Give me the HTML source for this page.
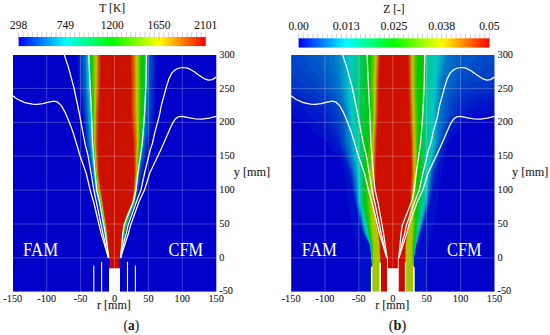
<!DOCTYPE html>
<html><head><meta charset="utf-8"><title>Figure</title>
<style>html,body{margin:0;padding:0;background:#fff;width:550px;height:335px;overflow:hidden;font-family:"Liberation Serif",serif}</style></head>
<body>
<svg width="550" height="335" viewBox="0 0 550 335" style="position:absolute;left:0;top:0" font-family="'Liberation Serif', serif" fill="#1a1a1a">
<rect width="550" height="335" fill="#fff"/>
<defs><clipPath id="ca"><rect x="13" y="55" width="204" height="237"/></clipPath><clipPath id="cb"><rect x="291" y="55" width="204" height="237"/></clipPath></defs>
<g clip-path="url(#ca)">
<rect x="0" y="40" width="240" height="260" fill="#0000c8"/>
<path d="M120.0,259.2 110.0,259.2 108.5,259.0 108.5,257.4 108.1,257.0 108.0,254.8 107.7,254.5 107.5,252.2 107.1,251.5 107.0,249.5 106.6,249.0 106.5,247.0 106.2,246.5 106.0,244.5 105.6,243.5 105.5,241.6 105.2,241.0 105.0,239.0 104.7,238.5 104.5,236.5 104.1,235.5 104.0,233.7 103.7,233.0 103.6,231.5 103.2,230.5 103.0,229.0 102.6,228.0 102.5,226.4 102.2,226.0 102.0,224.0 101.7,223.5 101.6,222.0 101.2,221.0 101.1,219.5 100.7,218.5 100.5,217.0 100.2,216.0 100.0,214.5 99.3,211.5 97.6,203.0 95.3,194.5 93.8,188.5 91.2,173.0 85.4,143.0 82.2,113.0 77.8,83.0 76.9,54.0 102.5,53.8 133.5,53.8 156.7,54.0 156.1,83.0 154.9,113.0 142.9,173.0 139.2,188.5 135.3,203.5 135.0,204.0 134.3,206.0 134.0,206.5 133.3,208.5 133.0,208.8 131.9,212.0 131.5,212.4 130.9,214.5 130.4,215.0 130.3,216.0 130.0,216.4 129.8,217.5 129.5,217.9 129.3,219.0 129.0,219.4 128.9,220.5 128.5,220.9 128.4,222.0 128.0,222.4 127.9,223.5 127.5,224.0 127.4,225.0 127.0,225.7 126.8,227.5 126.5,228.0 126.3,229.5 126.0,230.0 125.9,231.5 125.5,232.0 125.3,234.0 125.0,234.3 124.8,236.5 124.5,237.0 124.3,239.0 124.0,239.5 123.9,241.5 123.5,241.9 123.4,244.0 123.0,244.4 122.9,246.5 122.5,246.9 122.4,249.0 122.0,249.4 121.9,251.5 121.5,251.9 121.4,254.0 121.0,254.5 120.9,256.5 120.5,257.0 120.5,259.0 120.0,259.2Z" fill="#000fc8"/>
<path d="M120.0,259.2 110.0,259.2 108.6,259.0 108.5,257.3 108.1,256.5 108.0,254.6 107.7,254.0 107.5,251.9 107.2,251.5 107.0,249.5 106.7,248.5 106.6,247.0 106.2,246.0 106.0,244.0 105.7,243.5 105.5,241.5 105.2,240.5 104.0,233.4 97.8,203.0 94.3,190.0 91.4,173.0 85.8,143.0 82.7,113.0 78.7,83.0 77.7,54.0 102.5,53.8 133.0,53.8 155.7,54.0 155.1,83.0 153.9,113.0 148.4,143.0 142.5,173.0 138.6,190.0 135.2,203.5 130.4,215.0 127.0,225.4 125.7,231.5 125.5,232.0 125.3,233.5 125.0,234.1 124.8,236.0 124.4,237.0 124.3,238.5 123.9,239.5 123.8,241.0 123.4,242.0 123.4,243.5 123.0,244.5 122.9,246.0 122.5,246.8 122.3,249.0 122.0,249.3 121.8,251.5 121.5,251.8 121.4,254.0 121.0,254.4 120.9,256.5 120.5,256.9 120.5,259.0 120.0,259.2Z" fill="#0019c8"/>
<path d="M120.0,259.2 110.0,259.2 108.6,259.0 108.5,257.1 108.2,256.5 108.0,254.5 107.7,254.0 107.5,251.8 107.2,251.0 107.1,249.5 106.7,248.5 106.6,247.0 104.0,233.1 97.9,203.0 94.5,190.0 91.6,173.0 86.3,143.0 83.3,113.0 79.5,83.0 78.6,54.0 102.5,53.8 133.0,53.8 154.8,54.0 154.2,83.0 153.0,113.0 147.9,143.0 142.0,173.0 138.4,190.0 135.2,203.0 130.3,215.0 127.0,225.2 125.0,233.9 123.8,241.0 123.4,242.0 123.3,243.5 122.9,244.5 122.8,246.0 122.5,246.7 122.3,248.5 122.0,249.2 121.9,251.0 121.5,251.8 121.4,253.5 121.3,254.0 121.0,254.3 120.8,256.5 120.5,256.9 120.5,259.0 120.0,259.2Z" fill="#0023c8"/>
<path d="M120.0,259.2 110.0,259.2 108.6,259.0 108.5,257.0 108.2,256.5 108.0,254.3 107.7,253.5 107.5,251.6 104.0,233.0 98.0,203.0 94.6,190.0 86.7,143.0 83.9,113.0 80.3,83.0 79.5,54.0 102.5,53.8 133.0,53.8 153.9,54.0 153.3,83.0 152.1,113.0 147.3,143.0 141.6,173.0 138.2,190.0 135.1,203.0 130.3,215.0 127.0,225.0 125.0,233.7 123.2,243.5 122.9,244.5 122.8,246.0 122.5,246.5 122.3,248.5 122.0,249.1 121.8,251.0 121.5,251.7 121.3,253.5 121.0,254.2 120.9,256.0 120.5,256.8 120.5,259.0 120.0,259.2Z" fill="#002dc8"/>
<path d="M120.0,259.1 110.0,259.2 108.6,259.0 108.5,256.9 108.2,256.0 104.2,233.5 98.2,203.0 94.8,190.0 87.1,143.0 84.4,113.0 81.2,83.0 80.3,54.0 102.5,53.8 133.0,53.8 152.9,54.0 152.3,83.0 151.1,113.0 146.7,143.0 138.0,190.0 135.0,203.0 130.2,215.0 127.0,225.0 125.0,233.5 122.2,248.5 122.0,249.0 121.8,251.0 121.5,251.6 121.3,253.5 121.0,254.1 120.8,256.0 120.5,256.7 120.4,259.0 120.0,259.1Z" fill="#0037c8"/>
<path d="M120.0,259.1 110.0,259.2 108.7,259.0 108.5,256.8 104.3,233.5 98.3,203.0 94.9,190.0 87.5,143.0 85.0,113.0 82.0,83.0 81.2,54.0 102.5,53.8 133.0,53.8 152.0,54.0 151.4,83.0 150.2,113.0 146.2,143.0 137.8,190.0 135.0,203.0 130.1,215.0 126.9,225.0 125.0,233.3 121.7,251.0 121.5,251.5 121.3,253.5 121.0,254.1 120.8,256.0 120.5,256.7 120.4,259.0 120.0,259.1Z" fill="#0041c8"/>
<path d="M120.0,259.1 110.0,259.2 108.7,259.0 108.5,256.6 104.3,233.5 98.4,203.0 95.1,190.0 87.9,143.0 85.5,113.0 82.8,83.0 82.1,54.0 102.5,53.8 133.0,53.8 151.0,54.0 150.4,83.0 149.2,113.0 145.6,143.0 140.3,173.0 137.5,190.0 134.9,203.0 130.1,215.0 126.9,225.0 125.0,233.1 121.5,251.4 121.2,253.5 121.0,254.0 120.8,256.0 120.5,256.6 120.4,259.0 120.0,259.1Z" fill="#004bc8"/>
<path d="M120.0,259.1 110.0,259.2 108.7,259.0 108.5,256.5 104.4,233.5 98.9,204.5 95.2,189.5 88.3,143.0 83.7,83.0 82.9,54.0 102.5,53.8 133.0,53.8 150.1,54.0 149.5,83.0 148.3,113.0 145.1,143.0 139.9,173.0 137.3,190.0 134.8,203.0 130.0,215.0 126.8,225.0 125.0,233.0 121.0,253.9 120.8,256.0 120.5,256.5 120.4,259.0 120.0,259.1Z" fill="#0055c8"/>
<path d="M120.0,259.1 110.0,259.2 108.7,259.0 108.5,256.4 104.5,233.8 99.0,204.5 95.3,189.5 92.7,172.0 88.8,143.0 84.5,83.0 83.8,54.0 102.5,53.8 133.0,53.8 149.2,54.0 148.6,83.0 147.4,113.0 144.5,143.5 139.5,172.8 137.3,189.0 134.7,203.0 129.9,215.0 126.8,225.0 124.9,233.0 121.0,253.8 120.8,255.5 120.5,256.5 120.4,259.0 120.0,259.1Z" fill="#005fc8"/>
<path d="M120.0,259.1 110.0,259.2 108.8,259.0 108.5,256.2 104.5,233.4 99.0,203.9 95.4,189.0 92.8,171.0 89.1,143.0 85.2,85.0 84.4,54.0 102.5,53.8 133.0,53.8 148.5,54.0 147.8,87.5 146.8,113.0 144.2,143.0 139.5,171.0 136.9,191.0 134.7,202.5 129.9,215.0 126.5,225.9 124.9,233.0 121.0,253.7 120.8,255.5 120.5,256.4 120.4,259.0 120.0,259.1Z" fill="#0069c8"/>
<path d="M120.0,259.1 110.0,259.2 108.8,259.0 108.5,256.1 104.5,233.1 99.0,203.3 95.6,190.0 93.3,174.0 89.4,143.0 85.5,83.0 84.8,54.0 102.5,53.8 132.5,53.8 148.3,54.0 147.7,83.0 146.5,113.0 143.9,143.0 139.0,173.2 136.7,191.0 134.7,202.5 129.8,215.0 126.5,225.7 124.9,233.0 120.8,255.5 120.5,256.3 120.4,259.0 120.0,259.1Z" fill="#0073c8"/>
<path d="M120.0,259.1 110.0,259.2 108.8,259.0 108.5,256.0 104.5,233.0 99.0,203.0 95.7,190.0 93.3,173.0 89.6,143.0 85.8,83.0 85.2,54.0 102.5,53.8 132.0,53.8 148.0,54.0 147.5,83.0 146.2,113.0 143.7,143.0 138.9,173.0 136.7,190.5 134.6,202.5 129.8,215.0 126.5,225.5 124.8,233.0 120.8,255.5 120.5,256.3 120.4,259.0 120.0,259.1Z" fill="#007dc8"/>
<path d="M120.0,259.1 110.0,259.2 108.8,259.0 108.5,255.8 104.6,233.0 99.1,203.0 95.8,190.0 93.5,173.0 89.9,143.0 86.2,83.0 85.5,54.0 102.5,53.8 131.5,53.8 147.8,54.0 147.3,83.0 146.0,113.0 143.6,143.0 138.8,173.0 136.7,190.0 134.4,203.0 129.7,215.0 126.5,225.3 124.8,233.0 120.5,256.2 120.3,259.0 120.0,259.1Z" fill="#0087c8"/>
<path d="M120.0,259.1 110.0,259.2 108.9,259.0 108.5,255.7 104.7,233.0 99.2,203.0 95.9,190.0 93.6,173.0 90.2,143.0 86.5,83.0 85.9,54.0 102.5,53.8 131.0,53.8 147.5,54.0 147.0,83.0 145.7,113.0 143.4,143.0 138.7,173.0 136.6,190.0 134.4,203.0 129.7,215.0 126.5,225.2 124.7,233.0 120.5,256.2 120.3,259.0 120.0,259.1Z" fill="#0091c8"/>
<path d="M120.0,259.1 110.0,259.2 108.9,259.0 108.5,255.6 104.7,233.0 99.3,203.0 96.0,190.0 93.7,173.0 90.5,143.0 86.9,83.0 86.2,54.0 102.5,53.8 130.0,53.8 147.3,54.0 146.8,83.0 145.5,113.0 143.2,143.0 138.5,173.0 136.5,190.0 134.3,203.0 129.6,215.0 126.5,225.0 124.5,234.1 120.5,256.1 120.3,259.0 120.0,259.1Z" fill="#009bc8"/>
<path d="M120.0,259.1 110.0,259.2 108.9,259.0 108.5,255.4 104.8,233.0 99.4,203.0 96.1,190.0 93.9,173.0 90.7,143.0 87.2,83.0 86.6,54.0 102.5,53.8 147.0,54.0 146.6,83.0 145.3,113.0 143.0,143.0 138.4,173.0 136.4,190.0 134.2,203.0 129.5,215.0 126.5,225.0 124.5,233.9 120.5,256.0 120.3,259.0 120.0,259.1Z" fill="#00a5c8"/>
<path d="M120.0,259.1 110.0,259.2 108.9,259.0 108.9,258.0 104.8,233.0 99.5,203.0 96.2,190.0 94.0,173.0 91.0,143.0 87.6,83.0 86.9,54.0 102.5,53.8 146.8,54.0 146.4,83.0 145.0,113.0 142.8,143.0 138.3,173.0 136.4,189.5 134.3,202.5 129.5,215.0 126.4,225.0 124.6,233.0 120.5,256.0 120.3,259.0 120.0,259.1Z" fill="#00afc8"/>
<path d="M120.0,259.1 110.0,259.2 109.0,259.0 109.0,258.0 104.9,233.0 99.9,204.5 96.2,189.5 94.1,173.0 91.3,143.0 87.9,83.0 87.3,54.0 102.5,53.8 146.5,54.0 146.1,83.0 144.8,113.0 142.6,143.0 138.2,173.0 136.3,189.5 134.2,202.5 129.4,215.0 126.4,225.0 124.6,233.0 120.5,256.0 120.3,259.0 120.0,259.1Z" fill="#00b9c8"/>
<path d="M120.0,259.1 110.0,259.2 109.0,259.0 109.0,258.0 104.9,233.0 100.0,204.5 96.2,189.0 94.2,173.0 91.5,143.5 88.3,83.0 87.6,54.0 102.5,53.8 146.3,54.0 145.9,85.0 144.4,115.5 142.4,143.5 138.0,173.0 136.3,189.0 134.2,202.5 129.4,215.0 126.3,225.0 124.5,233.0 120.5,256.0 120.3,259.0 120.0,259.1Z" fill="#00c3c8"/>
<path d="M120.0,259.1 110.0,259.2 109.0,259.0 109.0,258.0 105.0,233.0 100.0,204.2 96.3,189.0 94.2,172.0 92.0,145.4 91.7,143.0 90.5,117.0 88.6,85.0 88.0,54.0 102.5,53.8 146.0,54.0 145.9,83.5 145.5,87.5 145.4,94.5 145.0,98.3 144.9,105.0 144.5,109.0 144.4,115.0 144.0,117.5 143.9,122.0 143.5,124.5 143.4,129.0 143.0,131.8 142.4,143.0 142.0,144.5 141.8,147.0 141.5,148.0 141.3,150.5 141.0,151.5 140.8,154.0 140.5,155.0 140.3,157.5 140.0,158.5 139.8,161.0 139.5,162.0 139.3,164.5 139.0,165.5 138.8,168.0 138.5,169.0 138.3,171.5 138.0,172.5 137.9,175.0 137.5,176.8 137.4,179.5 137.0,181.3 136.3,188.5 134.2,202.0 133.9,203.5 129.3,215.0 126.3,225.0 124.5,233.0 120.5,256.0 120.3,259.0 120.0,259.1Z" fill="#00c8c3"/>
<path d="M120.0,259.1 110.0,259.2 109.0,259.0 109.0,257.9 105.0,233.0 100.0,203.9 96.7,191.0 96.4,189.0 94.3,171.5 91.8,143.0 90.5,114.5 88.7,83.0 88.2,54.0 102.5,53.8 146.0,54.0 145.8,83.0 145.5,86.5 144.3,114.0 144.0,116.7 142.3,143.0 140.5,154.6 140.3,157.0 140.0,158.1 139.8,160.5 139.5,161.7 139.3,164.0 139.0,165.2 138.8,167.5 138.5,168.7 138.3,171.0 138.0,172.2 136.8,184.0 136.5,185.5 136.3,188.5 134.2,202.0 133.8,203.5 129.2,215.0 126.3,225.0 124.5,233.0 120.5,256.0 120.2,259.0 120.0,259.1Z" fill="#00c8b9"/>
<path d="M120.0,259.1 110.0,259.2 109.0,259.0 109.0,257.9 105.1,233.0 100.0,203.6 96.6,190.0 94.4,171.0 91.9,142.0 90.6,113.0 88.9,83.0 88.3,54.0 102.5,53.8 145.9,54.0 145.7,83.0 144.3,113.5 142.2,143.0 138.8,167.5 138.5,168.5 138.3,171.0 138.0,172.0 136.2,188.5 133.9,203.0 129.2,215.0 126.2,225.0 124.4,233.0 120.4,256.0 120.2,259.0 120.0,259.1Z" fill="#00c8af"/>
<path d="M120.0,259.1 110.0,259.2 109.0,259.0 109.0,257.8 105.1,233.0 100.0,203.3 96.7,190.0 94.6,173.0 92.0,143.0 90.7,113.0 89.0,83.0 88.5,54.0 102.5,53.8 145.9,54.0 145.6,83.0 144.3,113.0 142.1,143.0 138.0,172.0 135.8,191.5 133.9,203.0 129.1,215.0 126.2,225.0 124.4,233.0 120.4,256.0 120.2,259.0 120.0,259.1Z" fill="#00c8a5"/>
<path d="M120.0,259.1 110.0,259.2 109.0,259.0 109.0,258.0 105.2,233.0 100.0,203.0 96.7,190.0 94.7,173.0 92.1,143.0 90.8,113.0 89.2,83.0 88.6,54.0 102.5,53.8 145.9,54.0 145.6,80.5 145.2,91.5 144.2,113.0 142.2,141.5 141.7,145.5 137.9,172.0 135.7,191.5 133.9,203.0 129.1,215.0 126.2,225.0 124.4,233.0 120.4,256.0 120.2,259.0 120.0,259.1Z" fill="#00c89b"/>
<path d="M120.0,259.1 110.0,259.2 109.1,259.0 109.1,258.0 105.2,233.0 100.1,203.0 96.8,190.0 94.9,173.0 92.3,143.0 91.1,113.0 89.5,83.0 88.9,54.0 102.5,53.8 145.8,54.0 145.4,83.0 145.1,90.0 144.1,113.0 141.9,143.0 137.9,172.0 135.7,191.0 133.8,203.0 128.9,215.0 126.1,225.0 124.3,233.0 120.4,256.0 120.2,259.0 120.0,259.1Z" fill="#00c887"/>
<path d="M120.0,259.1 110.0,259.2 109.1,259.0 109.1,258.0 105.3,233.0 100.2,203.0 96.9,190.0 95.0,173.0 92.4,143.0 91.3,113.0 89.8,83.0 89.2,54.0 102.5,53.8 145.7,54.0 145.4,83.0 143.9,113.0 141.8,143.0 137.8,172.0 135.7,190.5 133.7,203.0 128.8,215.0 126.0,225.0 124.3,233.0 120.4,256.0 120.2,259.0 120.0,259.1Z" fill="#00c873"/>
<path d="M120.0,259.0 110.0,259.2 109.1,259.0 109.1,258.0 105.4,233.0 100.3,203.0 97.0,190.0 95.2,173.0 92.6,143.0 91.6,113.0 90.1,83.0 89.5,54.0 102.5,53.8 145.6,54.0 145.2,83.5 143.8,114.5 141.7,143.0 137.8,171.5 135.7,190.5 133.6,203.0 128.7,215.0 125.9,225.0 123.8,235.0 120.4,256.0 120.1,259.0 120.0,259.0Z" fill="#00c85f"/>
<path d="M120.0,259.0 110.0,259.1 109.1,259.0 109.1,258.0 105.5,233.0 100.4,203.0 97.1,190.0 95.4,173.0 92.8,143.0 91.8,113.0 90.3,83.0 89.8,54.0 102.5,53.9 145.6,54.0 145.2,83.5 143.7,114.5 141.6,143.0 137.7,171.5 135.7,190.0 133.6,203.0 128.6,215.0 125.8,225.0 123.8,235.0 120.0,259.0Z" fill="#00c84b"/>
<path d="M120.0,259.0 110.0,259.1 109.1,259.0 109.1,258.0 105.6,233.0 100.5,203.0 97.2,190.0 95.5,173.0 92.9,143.0 92.1,113.0 90.6,83.0 90.1,54.0 102.5,53.9 145.4,54.0 145.1,83.5 144.7,87.5 144.6,94.0 144.2,98.5 143.6,114.5 143.2,117.5 141.5,143.0 137.7,171.0 135.7,190.0 133.5,203.0 128.4,215.0 125.8,225.0 123.7,235.0 120.4,255.5 120.0,259.0Z" fill="#00c837"/>
<path d="M120.0,259.0 110.0,259.1 109.2,259.0 109.2,258.0 105.6,233.0 100.6,203.0 97.3,190.0 93.1,143.0 92.3,113.0 90.9,83.0 90.4,54.0 102.5,53.9 145.1,54.0 145.0,83.0 144.6,85.0 144.5,93.5 144.1,96.0 144.0,104.5 143.6,106.5 143.5,114.1 143.1,116.0 143.0,121.0 142.6,122.5 142.5,128.0 142.1,129.5 142.0,134.6 141.6,136.5 141.5,141.5 141.1,143.5 141.0,146.0 140.7,147.0 140.5,149.8 140.2,151.0 140.0,153.6 139.6,155.0 139.5,157.5 139.2,158.5 139.0,161.5 138.7,162.5 138.5,165.2 138.2,166.5 135.6,190.0 133.4,203.0 128.3,215.0 125.7,225.0 123.6,235.0 120.4,255.5 120.0,259.0Z" fill="#00c823"/>
<path d="M120.0,259.0 110.0,259.1 109.2,259.0 109.2,258.0 105.7,233.0 100.7,203.0 97.4,190.0 93.2,143.0 92.6,113.0 91.2,83.0 90.7,54.0 102.5,53.9 143.5,54.0 143.3,83.0 142.3,113.0 140.8,143.0 135.6,190.0 133.3,203.0 128.1,215.0 125.6,225.0 123.6,235.0 120.4,255.5 120.0,259.0Z" fill="#00c80f"/>
<path d="M120.0,259.0 110.0,259.1 109.2,259.0 109.2,258.0 105.8,233.0 100.8,203.0 97.5,190.0 93.4,143.0 92.8,113.0 91.5,83.0 91.0,54.0 102.5,53.9 141.5,54.0 141.4,101.0 140.3,141.0 137.3,173.0 135.5,190.0 133.2,203.0 128.0,215.0 125.5,225.0 123.5,235.0 120.4,255.5 120.0,259.0Z" fill="#05c800"/>
<path d="M119.5,259.1 109.2,259.0 109.2,258.0 105.9,233.0 100.9,203.0 97.6,190.0 93.5,143.0 93.0,113.0 92.0,83.0 91.5,54.0 141.0,54.0 141.1,83.0 140.6,113.0 139.9,143.0 136.8,177.5 135.5,190.0 133.2,203.0 127.9,215.0 125.4,225.0 123.5,234.6 120.3,255.5 120.0,259.0 119.5,259.1Z" fill="#19c800"/>
<path d="M119.5,259.1 109.2,259.0 109.2,258.0 106.0,233.0 101.0,203.0 97.8,190.0 96.3,174.5 93.7,143.0 93.2,113.0 92.4,83.0 92.1,54.0 140.5,54.0 140.6,83.0 140.3,113.0 139.7,143.0 137.2,173.0 135.4,190.0 133.1,203.0 127.8,215.0 125.3,225.0 123.5,234.2 120.3,255.5 120.0,259.0 119.5,259.1Z" fill="#2ec800"/>
<path d="M119.5,259.1 109.3,259.0 109.3,258.0 106.0,233.0 101.1,203.0 97.9,190.0 96.3,173.5 93.8,143.0 93.5,113.0 92.9,83.0 92.6,54.0 140.0,54.0 140.2,83.0 139.9,113.0 139.4,143.0 137.1,173.0 135.4,190.0 133.0,203.0 127.7,215.0 125.2,225.0 123.5,234.0 119.9,258.0 119.9,259.0 119.5,259.1Z" fill="#42c800"/>
<path d="M119.5,259.1 109.3,259.0 109.3,258.0 106.1,233.0 101.2,203.0 98.0,190.0 96.3,173.0 94.0,143.0 93.3,83.0 93.2,54.0 139.5,54.0 139.7,83.0 139.2,143.0 137.0,173.0 135.3,190.0 132.9,203.0 127.6,215.0 125.1,225.0 123.4,234.0 119.9,258.0 119.9,259.0 119.5,259.1Z" fill="#57c800"/>
<path d="M119.5,259.1 109.3,259.0 106.2,233.0 101.3,203.0 98.2,190.0 96.4,173.0 94.1,143.0 93.7,54.0 139.1,54.0 139.3,83.0 139.0,143.0 136.9,173.0 135.3,190.0 132.9,203.0 127.5,215.0 125.1,225.0 123.4,233.5 119.9,258.0 119.9,259.0 119.5,259.1Z" fill="#6bc800"/>
<path d="M119.5,259.1 109.3,259.0 109.1,256.0 106.1,232.0 101.4,203.0 98.3,190.0 96.5,173.0 94.2,143.0 94.1,113.0 94.2,54.0 138.6,54.0 138.8,83.0 138.8,143.0 136.8,173.0 135.2,190.0 132.8,203.0 127.4,215.0 125.0,225.0 123.3,233.5 119.9,258.0 119.9,259.0 119.5,259.1Z" fill="#80c800"/>
<path d="M119.5,259.1 109.3,259.0 109.1,256.0 106.1,231.5 101.5,203.0 98.4,190.0 96.5,172.1 94.4,143.0 94.3,113.0 94.8,54.0 138.1,54.0 138.4,83.0 138.6,143.0 136.7,173.0 135.2,190.0 132.7,203.0 127.3,215.0 124.9,225.0 123.3,233.0 119.8,258.0 119.8,259.0 119.5,259.1Z" fill="#94c800"/>
<path d="M119.5,259.1 109.4,259.0 109.2,256.0 106.2,231.5 101.6,203.0 98.5,189.6 96.7,173.0 94.5,143.0 94.6,113.0 95.1,83.0 95.3,54.0 137.6,54.0 138.3,143.0 136.7,173.0 135.1,190.0 132.6,203.0 127.2,215.0 124.8,225.0 123.3,233.0 119.8,258.0 119.8,259.0 119.5,259.1Z" fill="#a9c800"/>
<path d="M119.5,259.1 109.4,259.0 109.1,255.5 106.2,231.0 101.7,203.0 98.9,191.0 98.5,188.5 96.8,173.0 94.7,143.0 94.8,113.0 95.6,83.0 95.9,54.0 137.1,54.0 138.1,143.0 136.6,173.0 135.1,190.0 132.6,203.0 127.1,215.0 124.8,224.5 123.2,233.0 120.5,253.5 119.8,258.0 119.8,259.0 119.5,259.1Z" fill="#bdc800"/>
<path d="M119.5,259.1 109.4,259.0 109.2,255.5 106.6,233.0 101.9,203.0 99.0,190.5 97.0,174.6 94.9,143.0 95.0,113.0 96.0,83.0 96.4,54.0 136.6,54.0 137.8,143.0 136.5,173.0 135.0,190.0 132.5,203.0 127.0,215.0 124.7,224.5 123.1,233.0 120.0,257.0 119.8,258.0 119.8,259.0 119.5,259.1Z" fill="#cdc300"/>
<path d="M119.5,259.1 109.4,259.0 109.2,255.5 106.7,233.0 102.0,203.0 99.0,190.0 97.0,173.5 95.0,143.0 95.3,113.0 96.4,83.0 96.8,54.0 136.0,54.0 136.7,113.0 137.5,143.0 136.3,173.0 134.9,190.0 132.4,203.0 126.9,215.0 124.7,224.0 123.1,232.5 120.0,257.0 119.7,258.0 119.7,259.0 119.5,259.1Z" fill="#cdaf00"/>
<path d="M119.5,259.1 109.4,259.0 109.2,255.0 106.8,233.0 102.1,203.0 99.3,190.0 97.1,173.0 95.3,143.0 95.6,113.0 96.8,83.0 97.1,54.0 135.3,54.0 135.8,83.0 136.0,113.0 137.0,143.0 136.1,173.0 134.7,190.0 132.3,203.0 126.8,215.0 124.3,225.0 122.9,233.0 120.0,256.9 119.7,258.0 119.7,259.0 119.5,259.1Z" fill="#cd9b00"/>
<path d="M119.5,259.0 109.5,259.0 109.2,255.0 106.9,233.0 102.3,203.0 99.5,190.0 97.2,173.0 95.5,143.0 95.8,113.0 97.2,83.0 97.5,54.0 134.7,54.0 135.2,83.0 135.3,113.0 136.6,143.0 136.0,173.0 134.6,190.0 132.1,203.0 126.7,215.0 124.1,225.0 122.8,233.0 120.0,256.6 119.7,258.0 119.7,259.0 119.5,259.0Z" fill="#cd8700"/>
<path d="M119.5,259.0 109.5,259.0 109.3,255.0 107.0,233.0 102.4,203.0 99.8,190.0 97.4,173.0 95.8,143.0 96.1,113.0 97.6,83.0 97.8,54.0 134.0,54.0 134.6,83.0 134.6,113.0 136.1,143.0 135.7,174.5 134.4,190.0 132.0,203.0 126.6,215.0 124.0,225.0 122.6,233.0 120.0,256.4 119.7,258.0 119.7,259.0 119.5,259.0Z" fill="#cd7300"/>
<path d="M119.5,259.0 109.5,259.0 109.3,254.5 107.1,233.0 102.6,203.0 100.0,190.0 97.5,173.0 96.0,143.0 96.5,111.5 98.0,83.0 98.3,54.0 133.4,54.0 134.0,83.0 133.9,113.0 135.7,143.0 135.5,174.2 134.2,190.0 131.9,203.0 126.5,215.0 123.8,225.0 122.5,233.0 120.0,256.1 119.5,259.0Z" fill="#cd5f00"/>
<path d="M119.5,259.0 109.6,259.0 107.2,233.0 102.7,203.0 100.3,190.0 97.9,173.0 96.5,143.0 97.1,113.0 98.6,83.0 99.0,54.0 132.6,54.0 133.2,83.0 133.2,113.0 135.0,143.0 135.2,173.0 134.0,190.0 131.8,203.0 126.4,215.0 123.6,225.0 122.3,233.0 120.0,255.9 119.5,259.0Z" fill="#cd4b00"/>
<path d="M119.5,259.0 109.7,259.0 107.1,231.5 102.9,203.0 100.6,190.0 98.3,173.0 97.1,143.0 97.7,113.0 99.2,83.0 99.7,54.0 131.7,54.0 132.4,83.0 132.4,113.0 134.4,143.0 134.9,173.0 133.8,190.0 131.6,203.0 126.3,215.0 123.4,225.0 122.2,233.0 120.0,255.5 119.7,256.5 119.5,259.0Z" fill="#cd3700"/>
<path d="M119.5,259.0 109.8,259.0 109.8,258.0 109.5,257.2 109.3,253.0 109.0,251.5 108.8,247.0 108.5,245.7 107.2,231.0 101.0,190.0 98.6,173.0 97.6,143.0 98.4,113.0 99.9,83.0 100.5,54.0 130.9,54.0 131.7,83.0 131.7,113.0 133.7,143.0 134.5,173.0 133.5,190.0 131.5,202.9 126.4,214.5 123.3,225.0 121.9,234.0 120.2,251.5 120.0,255.1 119.7,256.5 119.5,259.0Z" fill="#cd2300"/>
<path d="M119.5,259.0 109.9,259.0 109.8,257.5 109.5,257.0 109.4,252.5 109.3,251.5 109.0,251.0 108.8,246.5 108.5,244.9 108.3,240.5 108.0,238.9 107.7,234.0 101.3,190.0 99.0,173.0 98.2,143.0 99.0,113.0 100.5,83.0 101.2,54.0 130.0,54.0 130.9,83.0 130.9,113.0 133.1,143.0 134.2,173.0 133.3,190.0 131.5,201.9 131.1,203.5 127.3,212.0 126.5,214.1 126.2,214.5 123.3,224.0 122.9,226.0 121.8,233.0 121.0,243.0 120.7,244.5 120.5,248.9 120.2,250.5 120.0,254.7 119.6,256.0 119.5,259.0Z" fill="#cd0f00"/>
<rect x="0" y="258.3" width="240" height="40" fill="#0000c8"/>
<rect x="109.5" y="257" width="10.1" height="11.4" fill="#cd0800"/>
<rect x="109.0" y="268.3" width="11.0" height="30" fill="#fff"/>
<rect x="93.25" y="265.5" width="1.1" height="40" rx="0.5" fill="#fff"/>
<rect x="101.05" y="261.7" width="1.1" height="40" rx="0.5" fill="#fff"/>
<rect x="126.95" y="261.7" width="1.1" height="40" rx="0.5" fill="#fff"/>
<rect x="134.85" y="265.5" width="1.1" height="40" rx="0.5" fill="#fff"/>
<g stroke="#fff" stroke-opacity="0.42" stroke-width="0.6"><line x1="46.7" y1="55.0" x2="46.7" y2="291.6"/><line x1="80.6" y1="55.0" x2="80.6" y2="291.6"/><line x1="114.5" y1="55.0" x2="114.5" y2="291.6"/><line x1="148.4" y1="55.0" x2="148.4" y2="291.6"/><line x1="182.3" y1="55.0" x2="182.3" y2="291.6"/><line x1="13.0" y1="257.9" x2="216.3" y2="257.9"/><line x1="13.0" y1="224.0" x2="216.3" y2="224.0"/><line x1="13.0" y1="190.1" x2="216.3" y2="190.1"/><line x1="13.0" y1="156.2" x2="216.3" y2="156.2"/><line x1="13.0" y1="122.3" x2="216.3" y2="122.3"/><line x1="13.0" y1="88.4" x2="216.3" y2="88.4"/>
</g>
<g fill="none" stroke="#fff" stroke-width="1.25" stroke-linejoin="round"><polyline points="12.8,95.7 17.5,99.2 24.9,102.6 32.4,104.1 36.9,104.4 42.8,103.7 48.8,102.2 54.0,101.1 57.8,102.2 61.5,105.9 65.2,112.6 69.0,121.6 72.7,131.3 76.3,143.0 80.1,156.0 86.1,173.0 90.3,190.5 93.9,203.0 101.0,233.0 108.5,258.0"/>
<polyline points="64.3,54.8 67.9,65.5 71.5,78.7 74.0,88.0 79.2,113.0 84.9,143.0 88.1,156.0 91.0,173.0 93.9,190.5 96.6,203.0 102.8,233.0 108.5,258.0"/>
<polyline points="88.8,54.8 90.0,83.0 91.5,113.0 92.6,143.0 95.1,173.0 96.8,190.5 99.8,203.0 105.2,233.0 108.8,258.0"/>
<polyline points="120.5,258.0 126.3,240.0 128.6,233.0 130.3,226.0 139.3,201.0 144.5,190.0 149.8,173.0 160.7,150.0 164.4,141.8 168.9,131.3 172.6,123.1 175.6,118.7 178.6,116.7 182.3,116.4 188.3,117.6 195.8,119.0 201.7,119.1 209.2,118.2 216.2,116.4"/>
<polyline points="120.5,258.0 124.5,240.0 126.5,233.0 128.0,225.5 136.9,200.5 140.9,190.0 144.6,173.0 150.2,150.0 152.5,143.0 154.7,132.8 159.2,116.4 161.4,105.0 163.7,96.8 165.9,88.6 168.9,78.9 171.9,72.9 175.6,69.5 179.3,68.0 183.1,67.5 187.6,68.1 192.8,70.7 198.7,75.1 204.0,78.6 208.4,80.1 212.2,79.6 216.2,77.1"/>
<polyline points="146.4,54.8 146.0,83.0 144.6,113.0 142.3,143.0 137.9,173.0 136.0,190.0 133.9,200.0 124.1,225.0 122.8,233.0 122.2,240.0 120.5,258.0"/>
</g>
<text x="40.5" y="255.6" font-size="18.0" text-anchor="middle" textLength="35.0" lengthAdjust="spacingAndGlyphs" fill="#fff">FAM</text>
<text x="185.8" y="255.7" font-size="18.0" text-anchor="middle" textLength="34.5" lengthAdjust="spacingAndGlyphs" fill="#fff">CFM</text>
</g>
<rect x="10.0" y="291.6" width="209.3" height="3" fill="#fff"/><rect x="216.3" y="52.0" width="3" height="242.6" fill="#fff"/><rect x="10.0" y="52.0" width="3" height="242.6" fill="#fff"/>
<g clip-path="url(#cb)">
<rect x="280" y="40" width="240" height="260" fill="#0000c8"/>
<path d="M427.0,293.0 413.5,293.0 412.5,293.2 404.5,293.2 381.5,293.2 373.0,293.2 372.0,293.0 359.3,293.0 359.3,266.0 357.8,245.0 353.0,233.0 348.1,203.0 344.3,173.0 341.3,160.0 339.5,156.2 338.0,153.9 335.5,152.9 333.5,151.7 331.5,150.1 330.0,148.5 328.7,146.5 327.2,143.0 325.0,139.3 320.0,136.5 315.5,133.2 311.8,129.5 308.0,124.6 299.0,120.2 295.0,117.9 291.0,115.4 290.0,115.4 290.0,54.0 407.0,53.8 496.0,54.0 496.0,112.6 494.0,112.6 478.0,114.8 474.3,117.5 470.0,120.0 466.5,122.7 462.0,125.0 460.4,127.5 458.4,130.0 457.0,132.5 455.7,134.0 453.3,136.0 450.0,137.6 448.9,142.0 448.4,143.0 441.3,173.0 437.7,203.0 431.9,233.0 429.0,245.0 427.4,258.0 427.1,266.0 427.1,293.0 427.0,293.0Z" fill="#000fc8"/>
<path d="M413.0,293.1 381.0,293.2 373.0,293.2 372.0,293.0 372.0,265.5 371.6,265.0 371.5,260.0 371.1,259.5 371.0,255.6 370.6,255.0 370.5,251.7 370.1,251.0 370.0,248.0 369.6,247.0 369.5,245.0 362.7,234.0 361.8,232.0 354.4,203.0 348.4,173.0 340.6,151.5 339.0,151.0 338.0,147.9 334.8,145.0 331.0,140.1 327.9,135.0 325.0,129.1 321.5,126.2 308.0,113.4 303.5,110.7 299.5,108.0 291.0,105.0 290.0,105.0 290.0,54.0 407.0,53.8 496.0,54.0 496.0,103.6 494.0,103.6 486.5,105.5 478.0,107.2 468.5,114.0 462.0,117.7 458.8,123.0 456.6,126.0 454.5,128.2 450.0,132.2 449.2,136.5 447.6,142.0 447.0,143.0 435.8,173.0 430.3,203.0 423.5,224.7 423.2,226.0 422.9,226.5 422.8,227.5 422.5,227.9 422.3,229.0 421.5,231.2 421.2,232.5 421.0,232.8 420.4,235.0 420.0,235.5 419.8,236.5 419.5,236.8 418.9,239.0 418.5,239.4 418.3,240.5 418.0,240.8 417.9,241.5 417.5,242.2 417.4,243.0 417.0,243.4 416.9,244.5 416.5,244.9 416.4,246.5 416.0,247.0 415.9,249.0 415.5,249.5 415.4,251.5 415.0,252.1 414.9,254.0 414.5,254.6 414.5,256.5 414.0,257.2 413.9,263.0 413.5,264.5 413.5,293.0 413.0,293.1Z" fill="#0019c8"/>
<path d="M413.0,293.1 381.0,293.2 373.0,293.2 372.0,293.0 372.0,265.5 371.6,264.0 371.5,259.6 371.2,258.5 371.0,255.1 370.7,254.0 370.5,251.2 370.2,250.0 369.6,245.0 362.6,233.0 355.0,203.0 349.5,173.0 341.8,151.5 340.9,151.0 338.0,141.7 334.2,137.0 330.7,131.5 327.4,125.0 325.0,118.6 313.8,108.0 308.0,105.3 300.5,102.7 291.0,98.9 290.0,98.9 290.0,54.0 407.0,53.8 496.0,54.0 496.0,97.0 493.0,97.2 478.0,100.0 474.5,102.3 468.0,106.8 462.0,111.4 461.3,113.0 460.0,115.2 455.5,121.8 453.0,124.8 450.0,127.5 448.2,134.5 448.7,135.0 448.5,135.6 435.1,173.0 429.8,203.0 421.0,232.0 416.5,244.7 416.2,246.5 416.0,246.8 415.8,249.0 415.5,249.5 415.3,251.5 415.0,252.0 414.8,254.0 414.5,254.5 414.3,256.5 414.0,257.0 413.8,262.5 413.5,263.7 413.5,293.0 413.0,293.1Z" fill="#0023c8"/>
<path d="M413.0,293.1 381.0,293.2 373.0,293.2 372.0,293.0 372.0,265.5 371.7,263.5 371.5,259.2 371.2,258.0 371.0,254.8 370.8,254.0 369.7,245.0 363.2,233.5 362.8,232.5 355.6,203.5 350.5,173.0 340.0,143.0 339.2,142.5 338.0,135.3 334.6,130.5 331.5,125.0 328.3,116.0 325.0,108.0 306.5,99.4 293.0,94.2 291.0,93.5 290.0,93.5 290.0,54.0 407.0,53.8 496.0,54.0 496.0,92.0 493.0,92.1 478.0,94.3 472.0,97.1 466.6,100.0 462.0,103.2 459.9,108.0 458.0,113.0 453.8,119.0 450.0,123.3 447.0,134.5 447.8,135.0 444.5,143.0 434.5,173.0 429.4,203.0 420.5,233.0 416.5,244.5 415.9,247.0 415.3,251.0 414.9,252.0 414.8,253.5 414.4,254.5 414.4,256.0 414.0,257.0 413.8,261.0 413.5,263.3 413.5,293.0 413.0,293.1Z" fill="#002dc8"/>
<path d="M413.0,293.1 381.0,293.2 373.0,293.2 372.1,293.0 372.1,265.5 371.7,263.0 371.5,258.8 371.2,257.5 371.0,254.4 369.8,245.0 363.3,233.0 355.9,203.0 351.0,173.0 340.8,143.0 340.3,142.5 338.8,132.0 338.0,128.9 335.6,125.0 332.6,116.0 329.6,108.0 327.1,105.5 325.0,103.0 318.6,100.0 308.0,94.0 294.5,89.1 291.0,88.0 290.0,88.0 290.0,54.0 407.0,53.8 496.0,54.0 496.0,86.1 494.0,86.1 478.0,88.6 471.1,91.5 462.0,96.0 459.4,100.0 458.5,102.1 456.5,107.2 454.7,113.0 450.0,119.1 445.8,134.5 446.1,135.0 443.3,143.0 433.9,173.0 429.0,203.0 420.3,233.0 416.5,244.3 416.0,246.4 414.7,253.5 414.4,254.5 414.3,256.0 413.9,257.0 413.8,260.5 413.5,262.8 413.4,293.0 413.0,293.1Z" fill="#0037c8"/>
<path d="M413.0,293.1 381.0,293.2 373.0,293.2 372.1,293.0 372.1,265.5 371.7,262.5 371.5,258.5 369.9,245.0 363.8,233.5 363.3,232.0 356.2,203.0 351.5,173.0 341.5,143.0 340.1,132.5 340.3,132.0 338.8,125.0 338.0,119.3 335.2,110.5 334.3,108.0 331.4,105.5 328.5,102.5 326.4,100.0 325.0,97.5 308.0,88.0 299.0,81.6 291.0,75.1 290.0,75.1 290.0,54.0 407.0,53.8 496.0,54.0 496.0,77.0 494.0,77.0 483.5,81.1 469.5,85.8 462.0,89.0 459.3,94.0 455.1,100.0 454.4,102.0 452.9,107.0 451.3,113.0 450.0,114.8 447.7,123.0 447.8,123.5 447.5,124.7 433.5,172.4 428.6,203.0 420.3,232.5 416.4,244.5 416.0,246.1 414.2,256.0 413.9,257.0 413.8,260.0 413.5,262.3 413.4,293.0 413.0,293.1Z" fill="#0041c8"/>
<path d="M413.0,293.1 381.0,293.2 373.0,293.2 372.1,293.0 372.1,265.5 371.7,262.5 371.5,258.2 370.0,245.0 363.8,233.0 356.6,203.0 352.0,173.0 342.8,143.0 341.6,129.5 338.5,108.0 338.0,107.3 333.4,103.5 330.1,100.0 325.0,91.2 319.2,88.0 308.0,76.8 299.5,70.0 297.4,66.0 295.4,61.5 293.1,55.0 293.1,54.0 381.0,53.8 496.0,54.0 496.0,63.1 494.0,63.1 488.3,66.5 483.0,70.0 478.0,72.2 462.0,80.8 461.2,83.0 456.8,92.0 454.0,96.0 450.9,100.0 450.0,103.2 449.2,110.5 449.4,111.0 449.2,113.0 446.6,123.0 446.6,123.5 432.9,173.0 428.3,203.0 420.1,232.5 416.3,244.5 415.8,247.0 413.9,257.0 413.5,261.7 413.4,293.0 413.0,293.1Z" fill="#004bc8"/>
<path d="M413.0,293.1 381.0,293.2 373.0,293.2 372.1,293.0 372.1,265.5 371.5,258.0 370.1,245.0 364.0,233.0 356.8,203.0 352.4,173.0 344.0,143.0 343.0,125.0 341.0,108.0 340.2,107.0 339.0,106.5 338.0,104.0 333.7,100.0 326.7,88.0 325.0,82.9 312.2,70.0 304.8,57.0 303.8,55.0 303.8,54.0 381.0,53.8 478.0,54.0 478.0,55.0 462.0,70.0 459.6,76.5 457.5,83.0 453.0,92.0 450.0,96.0 448.4,100.0 447.4,110.5 448.0,111.0 447.8,113.0 440.5,143.0 432.5,173.0 428.0,203.0 419.8,233.0 416.1,245.0 414.0,256.5 413.4,264.5 413.4,293.0 413.0,293.1Z" fill="#0055c8"/>
<path d="M413.0,293.1 381.0,293.2 373.0,293.2 372.1,293.0 372.1,265.5 371.5,258.0 370.1,245.0 364.3,233.0 357.1,203.0 352.9,173.0 345.0,143.0 343.9,125.0 341.9,108.0 341.3,107.0 340.2,106.5 338.0,100.7 337.3,100.0 330.2,88.0 327.8,80.0 325.0,72.1 322.9,70.0 314.4,55.0 314.4,54.0 381.0,53.8 461.0,54.0 461.0,55.0 459.3,62.0 457.7,70.0 455.6,76.5 453.8,83.0 448.4,94.0 447.3,97.0 446.4,100.0 445.6,110.5 446.0,111.0 445.9,113.0 439.8,143.0 432.1,173.0 427.8,203.0 419.7,233.0 416.0,245.5 413.9,256.5 413.5,261.0 413.4,293.0 413.0,293.1Z" fill="#005fc8"/>
<path d="M413.0,293.1 381.0,293.2 373.0,293.2 372.1,293.0 372.1,265.5 371.6,258.0 370.2,245.0 364.5,233.0 357.4,203.0 353.5,173.0 346.0,143.0 344.8,125.0 343.5,113.0 342.7,108.0 342.2,107.0 341.5,106.5 339.3,100.0 338.0,95.2 333.8,88.0 331.0,78.5 328.2,70.0 325.0,55.0 325.0,54.0 381.0,53.8 456.0,54.0 456.0,55.0 453.4,70.0 450.0,83.0 448.7,85.5 447.5,88.6 445.5,95.2 444.5,99.6 443.7,110.5 444.0,111.0 443.9,113.0 439.0,143.0 431.8,173.0 427.5,203.0 419.5,233.0 416.0,245.0 413.9,256.5 413.4,264.5 413.4,293.0 413.0,293.1Z" fill="#0069c8"/>
<path d="M413.0,293.1 381.0,293.2 373.0,293.2 372.1,293.0 372.1,265.5 371.6,258.0 370.2,245.0 364.8,233.0 357.7,203.0 354.0,173.0 347.0,143.0 344.5,113.0 343.6,108.0 343.2,107.0 342.8,106.5 338.6,91.0 338.0,89.2 337.3,88.0 334.8,78.5 332.3,70.0 329.1,55.0 329.1,54.0 381.0,53.8 451.0,54.0 451.0,55.0 449.0,70.0 444.7,86.0 442.9,96.0 442.4,100.0 441.9,110.5 442.1,111.0 442.0,113.0 438.3,143.0 431.4,173.0 427.3,203.0 419.4,233.0 416.0,245.0 413.9,256.5 413.4,264.0 413.3,293.0 413.0,293.1Z" fill="#0073c8"/>
<path d="M413.0,293.1 381.0,293.2 373.0,293.2 372.2,293.0 372.2,265.5 371.6,258.0 370.3,245.0 364.8,232.5 358.0,203.0 354.5,173.0 348.0,143.0 345.5,113.0 340.0,88.0 339.0,87.5 338.0,76.0 336.4,70.0 333.1,55.0 333.1,54.0 381.0,53.8 448.8,54.0 448.8,55.0 447.9,55.5 447.5,57.0 441.0,83.5 440.9,92.0 439.9,115.0 437.5,143.0 431.0,173.0 427.0,203.0 419.2,233.0 415.9,245.0 413.9,256.5 413.3,264.0 413.3,293.0 413.0,293.1Z" fill="#007dc8"/>
<path d="M413.0,293.1 381.0,293.2 373.0,293.2 372.2,293.0 372.2,265.5 371.6,258.0 370.3,245.0 365.2,233.0 358.3,203.0 355.0,173.0 349.0,143.0 346.2,113.0 341.2,88.0 340.4,87.5 338.0,58.8 337.2,55.0 337.2,54.0 381.0,53.8 447.3,54.0 447.3,55.0 446.5,55.5 440.3,83.0 439.1,113.0 436.9,143.0 430.7,173.0 426.7,203.0 415.8,245.0 413.8,256.5 413.3,264.0 413.3,293.0 413.0,293.1Z" fill="#0087c8"/>
<path d="M413.0,293.1 381.0,293.2 373.0,293.2 372.2,293.0 372.2,265.5 371.7,258.0 370.4,245.0 365.3,233.0 358.5,203.0 355.5,173.0 349.9,143.0 347.0,113.0 342.5,88.0 341.7,87.5 339.3,54.0 381.0,53.8 445.9,54.0 445.9,55.0 445.2,55.5 439.5,83.0 438.1,113.0 436.4,143.0 430.3,173.0 426.5,203.0 415.8,245.0 413.8,256.5 413.3,264.0 413.3,293.0 413.0,293.1Z" fill="#0091c8"/>
<path d="M413.0,293.1 381.0,293.2 373.0,293.2 372.2,293.0 372.2,265.5 371.7,258.0 370.5,245.0 365.5,233.0 358.8,203.0 356.0,173.0 350.9,143.0 347.7,113.0 343.7,88.0 343.1,87.5 340.9,54.0 381.0,53.8 444.4,54.0 444.4,55.0 443.8,55.5 438.8,83.0 435.8,143.0 430.0,173.0 426.2,203.0 415.7,245.0 413.8,256.5 413.3,264.5 413.3,293.0 413.0,293.1Z" fill="#009bc8"/>
<path d="M413.0,293.1 381.0,293.2 373.0,293.1 372.2,293.0 372.2,265.5 371.7,258.0 370.5,245.0 365.7,233.0 359.0,203.0 356.5,173.0 351.9,143.0 348.5,113.0 344.9,88.0 344.4,87.5 342.5,54.0 381.0,53.8 442.9,54.0 442.9,55.0 442.4,55.5 438.0,83.0 436.3,113.0 435.3,143.0 429.6,173.0 425.9,203.0 415.7,245.0 413.7,256.5 413.3,264.5 413.2,293.0 413.0,293.1Z" fill="#00a5c8"/>
<path d="M413.0,293.1 381.0,293.2 373.0,293.1 372.2,293.0 372.2,265.5 371.7,258.0 370.6,245.0 365.8,233.0 359.3,203.0 356.9,173.0 352.8,143.0 346.1,88.0 345.8,87.5 344.2,54.0 381.0,53.8 441.4,54.0 441.4,55.0 441.1,55.5 437.3,83.0 435.3,113.0 434.7,143.0 429.3,173.0 425.6,203.0 415.6,245.0 413.7,256.5 413.3,264.5 413.2,293.0 413.0,293.1Z" fill="#00afc8"/>
<path d="M413.0,293.1 381.0,293.2 373.0,293.1 372.3,293.0 372.3,265.5 371.8,258.0 370.6,245.0 366.0,233.0 359.5,203.0 357.4,173.0 349.9,113.0 347.4,88.0 347.1,87.5 346.8,83.0 345.8,54.0 381.0,53.8 440.0,54.0 436.5,83.0 434.4,113.0 434.1,143.0 428.9,173.0 425.4,203.0 415.7,244.0 413.8,256.0 413.4,260.5 413.2,264.5 413.2,293.0 413.0,293.1Z" fill="#00b9c8"/>
<path d="M413.0,293.0 381.0,293.2 373.0,293.1 372.3,293.0 372.3,265.5 370.7,245.0 366.2,233.0 359.8,203.0 357.9,173.0 354.7,143.0 350.7,113.0 348.4,87.5 348.1,83.0 347.4,54.0 381.0,53.8 438.5,54.0 435.8,83.0 433.4,113.0 433.6,143.0 428.6,173.0 425.1,203.0 415.7,244.0 413.7,256.0 413.4,260.0 413.2,264.5 413.2,293.0 413.0,293.0Z" fill="#00c3c8"/>
<path d="M413.0,293.0 381.0,293.2 372.3,293.0 372.3,265.5 370.7,245.0 366.4,233.0 360.0,203.0 358.4,173.0 356.0,146.3 355.5,141.6 351.4,113.0 349.5,83.0 349.0,54.0 381.0,53.8 437.0,54.0 435.0,83.1 432.5,113.0 433.0,143.0 428.2,173.0 424.8,203.0 415.4,245.0 413.7,256.0 413.3,260.5 413.2,266.0 413.2,293.0 413.0,293.0Z" fill="#00c8c3"/>
<path d="M413.0,293.0 381.0,293.2 372.3,293.0 372.3,265.5 370.8,245.0 366.6,233.0 360.3,203.0 358.8,173.0 356.2,143.0 352.2,113.0 350.7,83.0 350.2,54.0 381.0,53.8 435.4,54.0 433.6,83.0 431.3,113.0 432.3,143.0 427.7,173.0 424.4,203.0 415.3,245.0 413.7,256.0 413.3,260.5 413.2,266.0 413.2,293.0 413.0,293.0Z" fill="#00c8b9"/>
<path d="M413.0,293.0 381.0,293.2 372.3,293.0 372.3,265.5 370.8,245.0 366.8,233.0 360.6,203.0 359.3,173.0 356.7,143.0 353.1,113.0 351.9,83.0 351.4,54.0 381.0,53.8 433.7,54.0 432.2,83.0 430.1,113.0 431.5,143.0 427.2,173.0 423.9,203.0 415.2,245.0 413.7,256.0 413.3,260.0 413.1,266.0 413.1,293.0 413.0,293.0Z" fill="#00c8af"/>
<path d="M413.0,293.0 381.5,293.2 372.3,293.0 372.3,265.5 370.9,245.0 367.1,233.0 360.9,203.0 359.7,173.0 357.3,143.0 353.9,113.0 353.0,83.0 352.7,54.0 381.0,53.8 432.1,54.0 430.8,83.0 428.9,113.0 430.8,143.0 426.7,173.0 423.5,203.0 415.1,245.0 413.6,256.0 413.3,260.0 413.1,266.0 413.0,293.0Z" fill="#00c8a5"/>
<path d="M413.0,293.0 381.5,293.2 372.4,293.0 372.3,265.5 371.0,245.0 367.4,233.0 361.3,203.0 360.2,173.0 357.8,143.0 354.8,113.0 354.2,83.0 353.9,54.0 381.0,53.8 430.4,54.0 429.4,83.0 427.8,113.0 430.0,143.0 426.1,173.0 423.1,203.0 415.0,245.0 413.6,256.0 413.3,260.0 413.1,266.0 413.0,293.0Z" fill="#00c89b"/>
<path d="M413.0,293.0 381.5,293.2 372.4,293.0 372.4,265.5 371.1,245.0 367.8,232.5 361.9,203.0 361.0,172.6 356.5,113.0 356.5,83.0 356.3,54.0 381.0,53.8 427.2,54.0 426.6,83.0 425.4,113.0 428.5,143.0 425.1,173.0 422.2,203.0 417.1,233.0 415.0,244.2 413.3,258.0 413.1,266.0 413.0,293.0Z" fill="#00c887"/>
<path d="M413.0,293.0 381.5,293.2 372.4,293.0 372.4,266.0 371.2,245.0 368.3,233.5 362.3,203.0 361.6,173.0 357.8,113.0 358.2,83.0 358.3,54.0 381.0,53.8 425.6,54.0 425.4,83.0 423.8,113.0 425.4,143.0 424.3,173.0 421.3,203.0 416.8,233.0 414.6,246.0 413.3,258.0 413.0,266.0 413.0,293.0Z" fill="#00c873"/>
<path d="M412.5,293.1 381.0,293.2 372.5,293.0 372.5,266.0 371.4,245.0 368.5,233.0 362.7,203.0 362.1,173.0 359.0,113.0 360.1,54.0 381.0,53.8 425.2,54.0 424.8,85.5 423.3,113.0 423.6,143.0 423.5,173.0 420.6,203.0 416.6,232.0 414.5,245.4 413.2,258.0 413.0,266.0 413.0,293.0 412.5,293.1Z" fill="#00c85f"/>
<path d="M412.5,293.1 381.0,293.1 372.5,293.0 372.5,266.0 371.5,245.0 368.7,232.5 363.0,203.0 362.6,173.0 360.2,113.0 361.9,54.0 381.0,53.9 424.9,54.0 424.7,83.0 423.0,113.0 422.7,173.0 419.9,203.0 416.2,233.0 414.4,245.0 413.1,258.0 413.0,266.0 413.0,293.0 412.5,293.1Z" fill="#00c84b"/>
<path d="M412.5,293.1 381.0,293.1 372.5,293.0 372.5,266.0 372.3,258.0 371.6,245.0 371.2,244.0 371.1,242.5 370.7,241.5 370.5,240.0 368.8,232.0 363.4,203.0 363.1,173.0 362.3,142.5 361.8,113.0 363.8,54.0 381.0,53.9 424.7,54.0 424.5,83.0 422.8,113.0 422.1,143.0 421.9,173.0 419.2,203.0 415.9,233.0 414.3,245.0 413.1,258.0 412.9,266.0 412.9,293.0 412.5,293.1Z" fill="#00c837"/>
<path d="M412.5,293.1 381.0,293.1 372.6,293.0 372.6,266.0 372.4,258.0 371.7,245.0 371.3,244.0 371.2,242.5 370.8,241.5 370.7,240.0 369.3,233.5 363.7,203.0 363.9,143.0 364.7,113.0 365.0,83.0 365.7,54.0 381.0,53.9 424.6,54.0 424.4,83.0 422.7,113.0 421.4,143.0 421.1,173.0 418.6,203.0 413.9,248.5 413.0,258.0 412.9,293.0 412.5,293.1Z" fill="#00c823"/>
<path d="M412.5,293.1 372.6,293.0 372.6,266.0 372.4,258.0 371.9,250.5 371.8,245.0 371.7,244.5 371.4,244.0 371.2,242.0 370.9,241.5 370.8,240.0 369.4,233.5 364.1,203.0 364.4,173.0 365.4,143.0 367.6,113.0 367.3,83.0 367.6,54.0 381.0,53.9 424.3,54.0 424.2,83.0 420.6,143.0 420.3,173.0 415.5,230.5 412.9,258.0 412.8,293.0 412.5,293.1Z" fill="#00c80f"/>
<path d="M412.5,293.1 372.7,293.0 372.7,266.0 372.5,258.0 372.3,252.5 372.0,250.5 371.8,245.0 371.8,244.5 371.5,244.0 371.3,242.0 371.0,241.5 370.8,239.5 370.5,238.5 370.4,237.0 369.5,232.9 364.5,203.0 365.0,173.0 366.8,146.0 369.2,123.0 370.0,117.2 370.1,114.5 370.5,113.0 370.2,109.0 370.0,97.9 369.6,89.0 369.5,54.0 381.0,53.9 424.0,54.0 424.0,83.0 423.7,83.5 423.6,84.5 423.5,91.6 423.1,93.0 423.0,100.5 422.6,101.5 422.6,102.5 422.5,109.5 422.1,110.5 422.0,116.6 421.6,118.0 421.5,123.0 421.1,124.5 421.0,129.1 420.6,131.0 420.5,135.5 420.2,137.0 419.8,143.0 419.5,173.0 419.2,175.5 419.0,179.5 418.7,182.0 415.0,233.0 412.8,258.0 412.8,293.0 412.5,293.1Z" fill="#05c800"/>
<path d="M412.5,293.1 372.7,293.0 372.6,258.0 371.9,244.5 371.7,244.0 370.0,233.6 365.4,203.0 366.0,173.0 368.0,143.0 371.0,113.0 370.1,83.0 370.3,54.0 418.3,54.0 417.4,83.0 418.3,113.0 417.8,153.0 417.4,164.5 417.4,173.5 416.2,203.0 415.7,212.5 414.6,232.0 412.7,258.0 412.8,293.0 412.5,293.1Z" fill="#19c800"/>
<path d="M412.5,293.0 372.7,293.0 372.7,258.0 372.0,245.0 370.3,233.0 366.4,203.0 367.0,173.0 369.0,143.0 371.6,113.0 370.7,83.0 371.2,54.0 417.3,54.0 416.6,83.0 417.6,113.0 417.5,143.0 416.9,173.0 414.2,233.0 412.6,258.0 412.7,293.0 412.5,293.0Z" fill="#2ec800"/>
<path d="M412.5,293.0 372.8,293.0 372.8,258.0 372.3,245.0 370.7,233.0 367.4,203.0 367.9,173.0 372.1,113.0 371.4,83.0 372.0,54.0 416.4,54.0 415.9,83.0 416.9,113.0 417.1,143.0 416.6,173.0 415.0,203.0 413.9,233.0 413.1,245.0 412.5,258.0 412.7,266.0 412.7,293.0 412.5,293.0Z" fill="#42c800"/>
<path d="M412.5,293.0 372.8,293.0 372.9,258.0 372.5,245.0 371.1,233.0 368.4,203.0 368.9,173.0 371.0,143.0 372.7,113.0 372.0,83.0 372.9,54.0 415.4,54.0 415.2,83.0 416.3,113.0 416.6,143.0 416.3,173.0 414.5,203.0 413.5,233.0 412.8,245.0 412.3,258.0 412.7,266.0 412.7,293.0 412.5,293.0Z" fill="#57c800"/>
<path d="M412.5,293.0 372.9,293.0 372.9,264.5 373.0,258.0 372.7,245.0 371.5,233.0 369.3,203.0 369.8,173.0 371.0,157.3 371.2,152.5 371.5,150.1 371.7,145.5 372.0,143.0 372.2,135.5 372.5,130.6 373.2,113.0 372.6,83.0 373.6,54.0 414.5,54.0 414.5,83.0 415.6,113.0 416.2,143.0 416.0,173.0 414.0,201.7 413.2,233.0 412.5,245.0 412.2,258.0 412.6,266.0 412.5,293.0Z" fill="#6bc800"/>
<path d="M412.5,293.0 372.9,293.0 372.9,264.5 373.2,258.0 372.9,245.0 371.9,233.0 369.8,203.0 370.3,173.0 372.2,143.0 373.5,113.0 373.1,83.0 374.1,54.0 414.1,54.0 414.1,83.0 415.2,113.0 415.9,143.0 415.7,173.0 413.6,203.0 412.9,233.0 412.3,245.0 412.0,258.0 412.6,266.0 412.5,293.0Z" fill="#80c800"/>
<path d="M412.5,293.0 373.0,293.0 373.0,264.5 373.3,258.0 373.2,245.0 372.2,233.0 370.3,203.0 370.8,173.0 372.5,143.0 373.9,113.0 373.5,83.0 374.6,54.0 413.7,54.0 413.7,83.0 415.5,143.0 415.5,173.0 413.3,203.0 412.5,233.0 411.9,251.0 411.8,258.0 412.5,266.0 412.5,293.0Z" fill="#94c800"/>
<path d="M412.5,293.0 373.0,293.0 373.0,265.0 373.3,264.5 373.5,263.5 373.5,240.5 373.4,239.5 373.0,238.5 372.9,232.5 372.5,231.0 372.4,225.0 372.0,223.1 371.9,217.5 371.5,215.2 371.4,210.0 371.0,207.5 370.7,203.0 371.2,173.0 374.2,113.0 374.0,83.0 375.0,54.0 413.3,54.0 413.3,83.0 415.2,143.0 415.2,173.0 412.7,207.5 412.5,221.6 412.2,223.5 412.1,226.0 412.0,239.0 411.6,240.0 411.5,242.0 411.5,261.0 412.0,261.9 412.0,265.5 412.5,266.0 412.5,293.0Z" fill="#a9c800"/>
<path d="M406.0,293.0 379.3,293.0 379.3,258.0 378.6,245.0 377.0,233.0 371.1,203.0 371.6,173.0 374.5,113.0 374.4,83.0 375.5,54.0 412.9,54.0 412.9,83.0 414.9,143.0 414.9,173.0 412.7,203.0 408.7,232.0 406.5,245.0 406.3,258.0 406.3,293.0 406.0,293.0Z" fill="#bdc800"/>
<path d="M405.5,293.0 379.6,293.0 379.6,258.0 378.9,245.0 377.3,233.0 371.5,203.0 372.0,173.0 373.2,143.0 374.8,113.0 374.8,83.0 375.9,54.0 412.4,54.0 412.4,83.0 414.5,143.0 414.5,173.0 412.3,203.0 408.3,233.0 406.3,245.0 406.0,258.0 406.0,293.0 405.5,293.0Z" fill="#cdc300"/>
<path d="M405.5,293.0 379.7,293.0 379.7,258.0 379.1,245.0 377.6,233.0 371.9,203.0 372.5,173.0 373.5,143.0 375.1,113.0 375.3,83.0 376.4,54.0 412.0,54.0 412.1,83.0 414.1,143.0 414.2,173.0 412.0,203.0 408.1,232.5 406.1,245.0 405.8,258.0 405.8,293.0 405.5,293.0Z" fill="#cdaf00"/>
<path d="M405.5,293.0 379.9,293.0 379.9,258.0 379.2,245.0 377.8,233.0 372.2,203.0 373.9,143.0 375.5,113.0 375.7,83.0 376.8,54.0 411.5,54.0 411.7,83.0 412.6,113.0 413.7,143.0 413.9,173.0 411.8,203.0 407.9,233.0 405.9,245.0 405.7,258.0 405.7,293.0 405.5,293.0Z" fill="#cd9b00"/>
<path d="M405.5,293.0 380.0,293.0 380.0,258.0 379.4,245.0 378.0,233.0 372.5,203.0 374.2,143.0 375.8,113.0 376.1,83.0 377.2,54.0 411.1,54.0 411.4,83.0 412.1,113.0 413.2,143.0 413.5,173.0 411.5,203.0 407.7,233.0 405.8,245.0 405.5,258.0 405.5,293.0Z" fill="#cd8700"/>
<path d="M405.0,293.0 380.2,293.0 380.2,258.0 379.5,245.0 378.3,233.0 372.9,203.0 373.9,173.0 374.5,143.0 376.1,113.0 376.6,83.0 377.7,54.0 410.6,54.0 411.0,83.0 411.7,113.0 412.8,143.0 413.2,173.0 411.3,203.0 407.6,233.0 405.6,245.0 405.4,258.0 405.4,293.0 405.0,293.0Z" fill="#cd7300"/>
<path d="M405.0,293.0 380.3,293.0 380.3,258.0 379.7,245.0 378.5,233.0 373.2,203.0 374.3,173.0 374.8,143.0 376.4,113.0 377.0,83.0 378.1,54.0 410.2,54.0 411.3,113.0 412.4,143.0 412.9,173.0 411.0,203.0 407.4,233.0 405.5,245.0 405.3,258.0 405.3,293.0 405.0,293.0Z" fill="#cd5f00"/>
<path d="M405.0,293.0 380.5,293.0 380.5,258.0 379.8,245.0 378.7,233.0 373.5,203.0 374.6,173.0 375.3,143.0 376.9,113.0 377.5,83.0 378.7,54.0 409.6,54.0 410.7,113.0 412.0,143.0 412.5,173.0 410.7,203.0 407.2,233.0 405.4,245.0 405.2,258.0 405.2,293.0 405.0,293.0Z" fill="#cd4b00"/>
<path d="M405.0,293.0 380.6,293.0 380.6,258.0 380.0,245.0 378.9,233.0 373.9,203.0 375.0,173.0 375.7,143.0 377.3,113.0 377.9,83.0 379.2,54.0 409.1,54.0 410.2,113.0 411.5,143.0 412.0,173.0 410.4,203.0 407.1,233.0 405.2,245.0 405.0,293.0Z" fill="#cd3700"/>
<path d="M404.5,293.0 380.7,293.0 380.7,258.0 380.2,245.0 379.1,233.0 374.2,203.0 376.1,143.0 377.7,113.0 378.3,83.0 379.7,54.0 408.5,54.0 409.6,113.0 411.1,143.0 411.6,173.0 410.1,203.0 407.0,232.2 405.1,245.0 404.9,265.5 404.9,293.0 404.5,293.0Z" fill="#cd2300"/>
<path d="M404.5,293.0 380.9,293.0 380.9,258.0 380.3,243.5 379.2,232.0 374.5,203.0 376.6,143.0 378.2,113.0 378.8,83.0 380.3,54.0 408.0,54.0 409.1,113.0 410.6,143.0 411.1,173.0 409.8,203.0 406.7,233.5 404.9,245.0 404.7,293.0 404.5,293.0Z" fill="#cd0f00"/>
<path d="M370.9,300V268.4Q370.9,266.2 372.7,265.7V300Z" fill="#fff"/>
<rect x="372.7" y="262" width="6.7" height="40" fill="#a0c800"/>
<rect x="379.4" y="262.5" width="1.6" height="40" fill="#fff" opacity="0.9"/>
<rect x="381.0" y="256" width="6.2" height="40" fill="#cd0800"/>
<rect x="387.0" y="258" width="1.0" height="40" fill="#fff"/>
<path d="M414.7,300V268.4Q414.7,266.2 412.9,265.7V300Z" fill="#fff"/>
<rect x="406.2" y="262" width="6.7" height="40" fill="#a0c800"/>
<rect x="404.6" y="262.5" width="1.6" height="40" fill="#fff" opacity="0.9"/>
<rect x="398.4" y="256" width="6.2" height="40" fill="#cd0800"/>
<rect x="397.6" y="258" width="1.0" height="40" fill="#fff"/>
<rect x="388.0" y="256" width="9.6" height="12.3" fill="#cd0800"/>
<rect x="387.2" y="268.3" width="11.2" height="40" fill="#fff"/>
<g stroke="#fff" stroke-opacity="0.42" stroke-width="0.6"><line x1="325.0" y1="55.0" x2="325.0" y2="291.6"/><line x1="358.9" y1="55.0" x2="358.9" y2="291.6"/><line x1="392.8" y1="55.0" x2="392.8" y2="291.6"/><line x1="426.7" y1="55.0" x2="426.7" y2="291.6"/><line x1="460.6" y1="55.0" x2="460.6" y2="291.6"/><line x1="291.2" y1="257.9" x2="494.5" y2="257.9"/><line x1="291.2" y1="224.0" x2="494.5" y2="224.0"/><line x1="291.2" y1="190.1" x2="494.5" y2="190.1"/><line x1="291.2" y1="156.2" x2="494.5" y2="156.2"/><line x1="291.2" y1="122.3" x2="494.5" y2="122.3"/><line x1="291.2" y1="88.4" x2="494.5" y2="88.4"/>
</g>
<g fill="none" stroke="#fff" stroke-width="1.25" stroke-linejoin="round"><polyline points="291.1,95.7 295.8,99.2 303.2,102.6 310.7,104.1 315.2,104.4 321.1,103.7 327.1,102.2 332.3,101.1 336.1,102.2 339.8,105.9 343.5,112.6 347.3,121.6 351.0,131.3 354.6,143.0 358.4,156.0 364.4,173.0 368.6,190.5 372.2,203.0 379.3,233.0 386.8,258.0"/>
<polyline points="342.6,54.8 346.2,65.5 349.8,78.7 352.3,88.0 357.5,113.0 363.2,143.0 366.4,156.0 369.3,173.0 372.2,190.5 374.9,203.0 381.1,233.0 386.8,258.0"/>
<polyline points="367.1,54.8 368.3,83.0 369.8,113.0 370.9,143.0 373.4,173.0 375.1,190.5 378.1,203.0 383.5,233.0 387.1,258.0"/>
<polyline points="398.8,258.0 404.6,240.0 406.9,233.0 408.6,226.0 417.6,201.0 422.8,190.0 428.1,173.0 439.0,150.0 442.7,141.8 447.2,131.3 450.9,123.1 453.9,118.7 456.9,116.7 460.6,116.4 466.6,117.6 474.1,119.0 480.0,119.1 487.5,118.2 494.5,116.4"/>
<polyline points="398.8,258.0 402.8,240.0 404.8,233.0 406.3,225.5 415.2,200.5 419.2,190.0 422.9,173.0 428.5,150.0 430.8,143.0 433.0,132.8 437.5,116.4 439.7,105.0 442.0,96.8 444.2,88.6 447.2,78.9 450.2,72.9 453.9,69.5 457.6,68.0 461.4,67.5 465.9,68.1 471.1,70.7 477.0,75.1 482.3,78.6 486.7,80.1 490.5,79.6 494.5,77.1"/>
<polyline points="424.7,54.8 424.3,83.0 422.9,113.0 420.6,143.0 416.2,173.0 414.3,190.0 412.2,200.0 402.4,225.0 401.1,233.0 400.5,240.0 398.8,258.0"/>
</g>
<text x="319.3" y="255.6" font-size="18.0" text-anchor="middle" textLength="35.0" lengthAdjust="spacingAndGlyphs" fill="#fff">FAM</text>
<text x="464.3" y="255.7" font-size="18.0" text-anchor="middle" textLength="34.5" lengthAdjust="spacingAndGlyphs" fill="#fff">CFM</text>
</g>
<rect x="288.2" y="291.6" width="209.3" height="3" fill="#fff"/><rect x="494.5" y="52.0" width="3" height="242.6" fill="#fff"/><rect x="288.2" y="52.0" width="3" height="242.6" fill="#fff"/>
<defs><linearGradient id="ga" x1="0" x2="1" y1="0" y2="0"><stop offset="0" stop-color="#0000ff"/><stop offset="0.25" stop-color="#00ffff"/><stop offset="0.5" stop-color="#00ff00"/><stop offset="0.75" stop-color="#ffff00"/><stop offset="1" stop-color="#ff0000"/></linearGradient></defs>
<rect x="18.6" y="37.0" width="187.2" height="9.1" fill="url(#ga)"/>
<path d="M18.60,32.2V41.0M23.28,32.2V37.0M27.96,32.2V37.0M32.64,32.2V37.0M37.32,32.2V37.0M42.00,32.2V37.0M46.68,32.2V37.0M51.36,32.2V37.0M56.04,32.2V37.0M60.72,32.2V37.0M65.40,32.2V41.0M70.08,32.2V37.0M74.76,32.2V37.0M79.44,32.2V37.0M84.12,32.2V37.0M88.80,32.2V37.0M93.48,32.2V37.0M98.16,32.2V37.0M102.84,32.2V37.0M107.52,32.2V37.0M112.20,32.2V41.0M116.88,32.2V37.0M121.56,32.2V37.0M126.24,32.2V37.0M130.92,32.2V37.0M135.60,32.2V37.0M140.28,32.2V37.0M144.96,32.2V37.0M149.64,32.2V37.0M154.32,32.2V37.0M159.00,32.2V41.0M163.68,32.2V37.0M168.36,32.2V37.0M173.04,32.2V37.0M177.72,32.2V37.0M182.40,32.2V37.0M187.08,32.2V37.0M191.76,32.2V37.0M196.44,32.2V37.0M201.12,32.2V37.0M205.80,32.2V41.0" stroke="#8a8a8a" stroke-width="0.8" fill="none" opacity="0.5"/>
<text x="18.6" y="29.2" font-size="11.5" text-anchor="middle" textLength="17.0" lengthAdjust="spacingAndGlyphs" stroke="#1a1a1a" stroke-width="0.1">298</text>
<text x="65.4" y="29.2" font-size="11.5" text-anchor="middle" textLength="17.4" lengthAdjust="spacingAndGlyphs" stroke="#1a1a1a" stroke-width="0.1">749</text>
<text x="112.2" y="29.2" font-size="11.5" text-anchor="middle" textLength="22.9" lengthAdjust="spacingAndGlyphs" stroke="#1a1a1a" stroke-width="0.1">1200</text>
<text x="159.0" y="29.2" font-size="11.5" text-anchor="middle" textLength="22.9" lengthAdjust="spacingAndGlyphs" stroke="#1a1a1a" stroke-width="0.1">1650</text>
<text x="205.8" y="29.2" font-size="11.5" text-anchor="middle" textLength="23.2" lengthAdjust="spacingAndGlyphs" stroke="#1a1a1a" stroke-width="0.1">2101</text>
<text x="112.2" y="11.6" font-size="11.5" text-anchor="middle" stroke="#1a1a1a" stroke-width="0.1">T [K]</text>
<defs><linearGradient id="gb" x1="0" x2="1" y1="0" y2="0"><stop offset="0" stop-color="#0000ff"/><stop offset="0.25" stop-color="#00ffff"/><stop offset="0.5" stop-color="#00ff00"/><stop offset="0.75" stop-color="#ffff00"/><stop offset="1" stop-color="#ff0000"/></linearGradient></defs>
<rect x="298.6" y="38.3" width="190.8" height="9.3" fill="url(#gb)"/>
<path d="M298.60,33.5V42.3M303.37,33.5V38.3M308.14,33.5V38.3M312.91,33.5V38.3M317.68,33.5V38.3M322.45,33.5V38.3M327.22,33.5V38.3M331.99,33.5V38.3M336.76,33.5V38.3M341.53,33.5V38.3M346.30,33.5V42.3M351.07,33.5V38.3M355.84,33.5V38.3M360.61,33.5V38.3M365.38,33.5V38.3M370.15,33.5V38.3M374.92,33.5V38.3M379.69,33.5V38.3M384.46,33.5V38.3M389.23,33.5V38.3M394.00,33.5V42.3M398.77,33.5V38.3M403.54,33.5V38.3M408.31,33.5V38.3M413.08,33.5V38.3M417.85,33.5V38.3M422.62,33.5V38.3M427.39,33.5V38.3M432.16,33.5V38.3M436.93,33.5V38.3M441.70,33.5V42.3M446.47,33.5V38.3M451.24,33.5V38.3M456.01,33.5V38.3M460.78,33.5V38.3M465.55,33.5V38.3M470.32,33.5V38.3M475.09,33.5V38.3M479.86,33.5V38.3M484.63,33.5V38.3M489.40,33.5V42.3" stroke="#8a8a8a" stroke-width="0.8" fill="none" opacity="0.5"/>
<text x="298.6" y="30.4" font-size="11.5" text-anchor="middle" textLength="20.2" lengthAdjust="spacingAndGlyphs" stroke="#1a1a1a" stroke-width="0.1">0.00</text>
<text x="346.3" y="30.4" font-size="11.5" text-anchor="middle" textLength="27.0" lengthAdjust="spacingAndGlyphs" stroke="#1a1a1a" stroke-width="0.1">0.013</text>
<text x="394.0" y="30.4" font-size="11.5" text-anchor="middle" textLength="27.0" lengthAdjust="spacingAndGlyphs" stroke="#1a1a1a" stroke-width="0.1">0.025</text>
<text x="441.7" y="30.4" font-size="11.5" text-anchor="middle" textLength="27.0" lengthAdjust="spacingAndGlyphs" stroke="#1a1a1a" stroke-width="0.1">0.038</text>
<text x="489.4" y="30.4" font-size="11.5" text-anchor="middle" textLength="20.2" lengthAdjust="spacingAndGlyphs" stroke="#1a1a1a" stroke-width="0.1">0.05</text>
<text x="394.0" y="12.8" font-size="11.5" text-anchor="middle" stroke="#1a1a1a" stroke-width="0.1">Z [-]</text>
<text x="12.8" y="301.8" font-size="10.3" text-anchor="middle" stroke="#1a1a1a" stroke-width="0.1">-150</text>
<text x="46.7" y="301.8" font-size="10.3" text-anchor="middle" stroke="#1a1a1a" stroke-width="0.1">-100</text>
<text x="80.6" y="301.8" font-size="10.3" text-anchor="middle" stroke="#1a1a1a" stroke-width="0.1">-50</text>
<text x="114.5" y="301.8" font-size="10.3" text-anchor="middle" stroke="#1a1a1a" stroke-width="0.1">0</text>
<text x="148.4" y="301.8" font-size="10.3" text-anchor="middle" stroke="#1a1a1a" stroke-width="0.1">50</text>
<text x="182.3" y="301.8" font-size="10.3" text-anchor="middle" stroke="#1a1a1a" stroke-width="0.1">100</text>
<text x="216.2" y="301.8" font-size="10.3" text-anchor="middle" stroke="#1a1a1a" stroke-width="0.1">150</text>
<text x="219.3" y="261.0" font-size="10.3" text-anchor="start" stroke="#1a1a1a" stroke-width="0.1">0</text>
<text x="219.3" y="227.1" font-size="10.3" text-anchor="start" stroke="#1a1a1a" stroke-width="0.1">50</text>
<text x="219.3" y="193.2" font-size="10.3" text-anchor="start" stroke="#1a1a1a" stroke-width="0.1">100</text>
<text x="219.3" y="159.3" font-size="10.3" text-anchor="start" stroke="#1a1a1a" stroke-width="0.1">150</text>
<text x="219.3" y="125.4" font-size="10.3" text-anchor="start" stroke="#1a1a1a" stroke-width="0.1">200</text>
<text x="219.3" y="91.5" font-size="10.3" text-anchor="start" stroke="#1a1a1a" stroke-width="0.1">250</text>
<text x="219.3" y="57.6" font-size="10.3" text-anchor="start" stroke="#1a1a1a" stroke-width="0.1">300</text>
<text x="219.3" y="294.2" font-size="10.3" text-anchor="start" stroke="#1a1a1a" stroke-width="0.1">-50</text>
<text x="113.9" y="308.6" font-size="12.0" text-anchor="middle" textLength="34.0" lengthAdjust="spacingAndGlyphs" stroke="#1a1a1a" stroke-width="0.1">r [mm]</text>
<text x="233.8" y="175.6" font-size="12.0" text-anchor="start" textLength="36.4" lengthAdjust="spacingAndGlyphs" stroke="#1a1a1a" stroke-width="0.1">y [mm]</text>
<text x="291.1" y="301.8" font-size="10.3" text-anchor="middle" stroke="#1a1a1a" stroke-width="0.1">-150</text>
<text x="325.0" y="301.8" font-size="10.3" text-anchor="middle" stroke="#1a1a1a" stroke-width="0.1">-100</text>
<text x="358.9" y="301.8" font-size="10.3" text-anchor="middle" stroke="#1a1a1a" stroke-width="0.1">-50</text>
<text x="392.8" y="301.8" font-size="10.3" text-anchor="middle" stroke="#1a1a1a" stroke-width="0.1">0</text>
<text x="426.7" y="301.8" font-size="10.3" text-anchor="middle" stroke="#1a1a1a" stroke-width="0.1">50</text>
<text x="460.6" y="301.8" font-size="10.3" text-anchor="middle" stroke="#1a1a1a" stroke-width="0.1">100</text>
<text x="494.5" y="301.8" font-size="10.3" text-anchor="middle" stroke="#1a1a1a" stroke-width="0.1">150</text>
<text x="497.5" y="261.0" font-size="10.3" text-anchor="start" stroke="#1a1a1a" stroke-width="0.1">0</text>
<text x="497.5" y="227.1" font-size="10.3" text-anchor="start" stroke="#1a1a1a" stroke-width="0.1">50</text>
<text x="497.5" y="193.2" font-size="10.3" text-anchor="start" stroke="#1a1a1a" stroke-width="0.1">100</text>
<text x="497.5" y="159.3" font-size="10.3" text-anchor="start" stroke="#1a1a1a" stroke-width="0.1">150</text>
<text x="497.5" y="125.4" font-size="10.3" text-anchor="start" stroke="#1a1a1a" stroke-width="0.1">200</text>
<text x="497.5" y="91.5" font-size="10.3" text-anchor="start" stroke="#1a1a1a" stroke-width="0.1">250</text>
<text x="497.5" y="57.6" font-size="10.3" text-anchor="start" stroke="#1a1a1a" stroke-width="0.1">300</text>
<text x="497.5" y="294.2" font-size="10.3" text-anchor="start" stroke="#1a1a1a" stroke-width="0.1">-50</text>
<text x="392.2" y="308.6" font-size="12.0" text-anchor="middle" textLength="34.0" lengthAdjust="spacingAndGlyphs" stroke="#1a1a1a" stroke-width="0.1">r [mm]</text>
<text x="512.0" y="175.6" font-size="12.0" text-anchor="start" textLength="36.4" lengthAdjust="spacingAndGlyphs" stroke="#1a1a1a" stroke-width="0.1">y [mm]</text>
<text x="131.4" y="329.6" font-size="14.0" text-anchor="middle" textLength="15.6" lengthAdjust="spacingAndGlyphs" stroke="#1a1a1a" stroke-width="0.1">(<tspan font-weight="bold" stroke="none">a</tspan>)</text>
<text x="397.5" y="329.6" font-size="14.0" text-anchor="middle" textLength="17.6" lengthAdjust="spacingAndGlyphs" stroke="#1a1a1a" stroke-width="0.1">(<tspan font-weight="bold" stroke="none">b</tspan>)</text>
</svg>
</body></html>
